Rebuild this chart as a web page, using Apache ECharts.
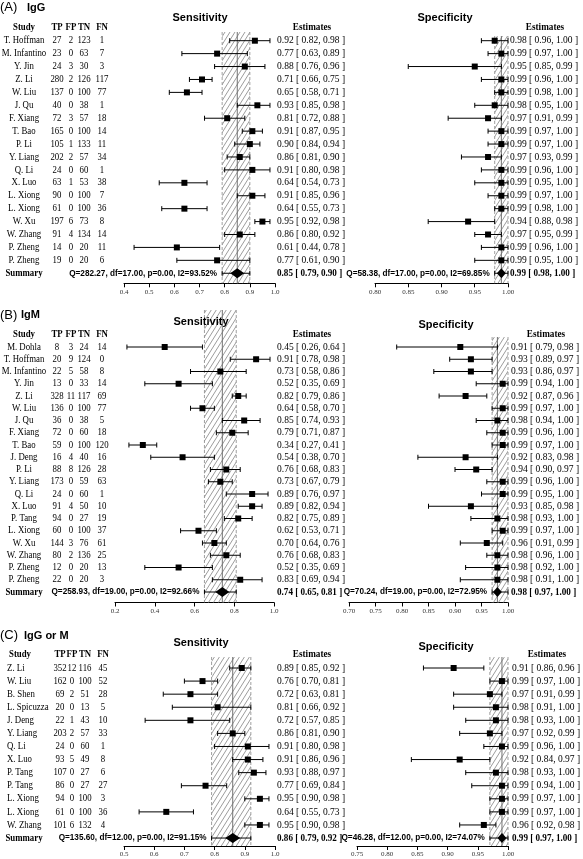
<!DOCTYPE html>
<html><head><meta charset="utf-8">
<script src="https://cdn.jsdelivr.net/npm/echarts@6/dist/echarts.min.js"></script>
<style>html,body{margin:0;padding:0;background:#fff}#c{width:583px;height:859px}</style>
</head><body><div id="c"></div>
<script>
// ===== Panel A: IgG =====
const studiesA = ["T. Hoffman","M. Infantino","Y. Jin","Z. Li","W. Liu","J. Qu","F. Xiang","T. Bao","P. Li","Y. Liang","Q. Li","X. Luo","L. Xiong","L. Xiong","W. Xu","W. Zhang","P. Zheng","P. Zheng"];
const tpA = [27,23,24,280,137,40,72,165,105,202,24,63,90,61,197,91,14,19];
const fpA = [2,0,3,2,0,0,3,0,1,2,0,1,0,0,6,4,0,0];
const tnA = [123,63,30,126,100,38,57,100,133,57,60,53,100,100,73,134,20,20];
const fnA = [1,7,3,117,77,1,18,14,11,34,1,38,7,36,8,14,11,6];
const sensA   = [0.92,0.77,0.88,0.71,0.65,0.93,0.81,0.91,0.90,0.86,0.91,0.64,0.91,0.64,0.95,0.86,0.61,0.77];
const sensLoA = [0.82,0.63,0.76,0.66,0.58,0.85,0.72,0.87,0.84,0.81,0.80,0.54,0.85,0.55,0.92,0.80,0.44,0.61];
const sensHiA = [0.98,0.89,0.96,0.75,0.71,0.98,0.88,0.95,0.94,0.90,0.98,0.73,0.96,0.73,0.98,0.92,0.78,0.90];
const specA   = [0.98,0.99,0.95,0.99,0.99,0.98,0.97,0.99,0.99,0.97,0.99,0.99,0.99,0.99,0.94,0.97,0.99,0.99];
const specLoA = [0.96,0.97,0.85,0.96,0.98,0.95,0.91,0.97,0.97,0.93,0.96,0.95,0.97,0.98,0.88,0.95,0.96,0.95];
const specHiA = [1.00,1.00,0.99,1.00,1.00,1.00,0.99,1.00,1.00,0.99,1.00,1.00,1.00,1.00,0.98,0.99,1.00,1.00];
const sensSummaryA = [0.85,0.79,0.90];
const specSummaryA = [0.99,0.98,1.00];
const sensStatsA = "Q=282.27, df=17.00, p=0.00, I2=93.52%";
const specStatsA = "Q=58.38, df=17.00, p=0.00, I2=69.85%";
const sensTicksA = [0.4,0.5,0.6,0.7,0.8,0.9,1.0];
const sensTickLabelsA = ["0.4","0.5","0.6","0.7","0.8","0.9","1.0"];
const specTicksA = [0.80,0.85,0.90,0.95,1.00];
const specTickLabelsA = ["0.80","0.85","0.90","0.95","1.00"];

// ===== Panel B: IgM =====
const studiesB = ["M. Dohla","T. Hoffman","M. Infantino","Y. Jin","Z. Li","W. Liu","J. Qu","F. Xiang","T. Bao","J. Deng","P. Li","Y. Liang","Q. Li","X. Luo","P. Tang","L. Xiong","W. Xu","W. Zhang","P. Zheng","P. Zheng"];
const tpB = [8,20,22,13,328,136,36,72,59,16,88,173,24,91,94,60,144,80,12,22];
const fpB = [3,9,5,0,11,0,0,0,0,4,8,0,0,4,0,0,3,2,0,0];
const tnB = [24,124,58,33,117,100,38,60,100,40,126,59,60,50,27,100,76,136,20,20];
const fnB = [14,0,8,14,69,77,5,18,120,16,28,63,1,10,19,37,61,25,13,3];
const sensB   = [0.45,0.91,0.73,0.52,0.82,0.64,0.85,0.79,0.34,0.54,0.76,0.73,0.89,0.89,0.82,0.62,0.70,0.76,0.52,0.83];
const sensLoB = [0.26,0.78,0.58,0.35,0.79,0.58,0.74,0.71,0.27,0.38,0.68,0.67,0.76,0.82,0.75,0.53,0.64,0.68,0.35,0.69];
const sensHiB = [0.64,0.98,0.86,0.69,0.86,0.70,0.93,0.87,0.41,0.70,0.83,0.79,0.97,0.94,0.89,0.71,0.76,0.83,0.69,0.94];
const specB   = [0.91,0.93,0.93,0.99,0.92,0.99,0.98,0.99,0.99,0.92,0.94,0.99,0.99,0.93,0.98,0.99,0.96,0.98,0.98,0.98];
const specLoB = [0.79,0.89,0.86,0.94,0.87,0.97,0.94,0.96,0.97,0.83,0.90,0.96,0.95,0.85,0.93,0.97,0.91,0.96,0.92,0.91];
const specHiB = [0.98,0.97,0.97,1.00,0.96,1.00,1.00,1.00,1.00,0.98,0.97,1.00,1.00,0.98,1.00,1.00,0.99,1.00,1.00,1.00];
const sensSummaryB = [0.74,0.65,0.81];
const specSummaryB = [0.98,0.97,1.00];
const sensStatsB = "Q=258.93, df=19.00, p=0.00, I2=92.66%";
const specStatsB = "Q=70.24, df=19.00, p=0.00, I2=72.95%";
const sensTicksB = [0.2,0.4,0.6,0.8,1.0];
const sensTickLabelsB = ["0.2","0.4","0.6","0.8","1.0"];
const specTicksB = [0.70,0.75,0.80,0.85,0.90,0.95,1.00];
const specTickLabelsB = ["0.70","0.75","0.80","0.85","0.90","0.95","1.00"];

// ===== Panel C: IgG or M =====
const studiesC = ["Z. Li","W. Liu","B. Shen","L. Spicuzza","J. Deng","Y. Liang","Q. Li","X. Luo","P. Tang","P. Tang","L. Xiong","L. Xiong","W. Zhang"];
const tpC = [352,162,69,20,22,203,24,93,107,86,94,61,101];
const fpC = [12,0,2,0,1,2,0,5,0,0,0,0,6];
const tnC = [116,100,51,13,43,57,60,49,27,27,100,100,132];
const fnC = [45,52,28,5,10,33,1,8,6,27,3,36,4];
const sensC   = [0.89,0.76,0.72,0.81,0.72,0.86,0.91,0.91,0.93,0.77,0.95,0.64,0.95];
const sensLoC = [0.85,0.70,0.63,0.66,0.57,0.81,0.80,0.86,0.88,0.69,0.90,0.55,0.90];
const sensHiC = [0.92,0.81,0.81,0.92,0.85,0.90,0.98,0.96,0.97,0.84,0.98,0.73,0.98];
const specC   = [0.91,0.99,0.97,0.98,0.98,0.97,0.99,0.92,0.98,0.99,0.99,0.99,0.96];
const specLoC = [0.86,0.97,0.91,0.91,0.93,0.92,0.96,0.84,0.93,0.94,0.97,0.97,0.92];
const specHiC = [0.96,1.00,0.99,1.00,1.00,0.99,1.00,0.97,1.00,1.00,1.00,1.00,0.98];
const sensSummaryC = [0.86,0.79,0.92];
const specSummaryC = [0.99,0.97,1.00];
const sensStatsC = "Q=135.60, df=12.00, p=0.00, I2=91.15%";
const specStatsC = "Q=46.28, df=12.00, p=0.00, I2=74.07%";
const sensTicksC = [0.5,0.6,0.7,0.8,0.9,1.0];
const sensTickLabelsC = ["0.5","0.6","0.7","0.8","0.9","1.0"];
const specTicksC = [0.75,0.80,0.85,0.90,0.95,1.00];
const specTickLabelsC = ["0.75","0.80","0.85","0.90","0.95","1.00"];

// ===== Layout (positions only) =====
const panels = [
  {letter:"(A)", name:"IgG", nameX:27,
   studies:studiesA, tp:tpA, fp:fpA, tn:tnA, fn:fnA,
   sens:{est:sensA, lo:sensLoA, hi:sensHiA, sum:sensSummaryA, stat:sensStatsA, ticks:sensTicksA, labels:sensTickLabelsA},
   spec:{est:specA, lo:specLoA, hi:specHiA, sum:specSummaryA, stat:specStatsA, ticks:specTicksA, labels:specTickLabelsA},
   L:{titleY:7.5, sensTitleY:18, specTitleY:18, firstY:40.7, step:12.92, axisY:283.3, headerRow:-1.05,
      sens:{left:124, right:275, top:32, estX:277, hw:7, titleX:200},
      spec:{left:375, right:508, top:36, estX:510, hw:4.5, titleX:445},
      cols:{name:24, nameAlign:'center', study:24, tp:57, fp:71, tn:84, fn:102}}},
  {letter:"(B)", name:"IgM", nameX:21,
   studies:studiesB, tp:tpB, fp:fpB, tn:tnB, fn:fnB,
   sens:{est:sensB, lo:sensLoB, hi:sensHiB, sum:sensSummaryB, stat:sensStatsB, ticks:sensTicksB, labels:sensTickLabelsB},
   spec:{est:specB, lo:specLoB, hi:specHiB, sum:specSummaryB, stat:specStatsB, ticks:specTicksB, labels:specTickLabelsB},
   L:{titleY:315, sensTitleY:322, specTitleY:325, firstY:347, step:12.25, axisY:602.5, headerRow:-1.0,
      sens:{left:115, right:274, top:310, estX:277, hw:7, titleX:201},
      spec:{left:349, right:508, top:337, estX:511, hw:4.5, titleX:446},
      cols:{name:24, nameAlign:'center', study:24, tp:57, fp:71, tn:84, fn:102}}},
  {letter:"(C)", name:"IgG or M", nameX:24,
   studies:studiesC, tp:tpC, fp:fpC, tn:tnC, fn:fnC,
   sens:{est:sensC, lo:sensLoC, hi:sensHiC, sum:sensSummaryC, stat:sensStatsC, ticks:sensTicksC, labels:sensTickLabelsC},
   spec:{est:specC, lo:specLoC, hi:specHiC, sum:specSummaryC, stat:specStatsC, ticks:specTicksC, labels:specTickLabelsC},
   L:{titleY:635.5, sensTitleY:643, specTitleY:647, firstY:668, step:13.08, axisY:846, headerRow:-1.07,
      sens:{left:124, right:275, top:657, estX:277, hw:7.5, titleX:201},
      spec:{left:357, right:508, top:657, estX:512, hw:4.5, titleX:446},
      cols:{name:7, nameAlign:'left', study:20, tp:60, fp:72, tn:85, fn:103}}}
];

const SERIF = '"Liberation Serif","Times New Roman",serif';
const SANS = '"Liberation Sans",Arial,sans-serif';

// hatch pattern
const hatchCanvas = document.createElement('canvas');
hatchCanvas.width = 5; hatchCanvas.height = 8;
(function(){
  const ctx = hatchCanvas.getContext('2d');
  ctx.strokeStyle = '#8a8a8a'; ctx.lineWidth = 0.85;
  ctx.beginPath();
  ctx.moveTo(0,8); ctx.lineTo(5,0);
  ctx.moveTo(-5,8); ctx.lineTo(0,0);
  ctx.moveTo(5,8); ctx.lineTo(10,0);
  ctx.stroke();
})();
const hatch = {image: hatchCanvas, repeat: 'repeat'};

const f2 = v => v.toFixed(2);
const estText = (e,l,h) => f2(e) + ' [ ' + f2(l) + ', ' + f2(h) + ' ]';

function txt(s, x, y, align, opts) {
  opts = opts || {};
  return {type:'text', x:x, y:y, scaleX: opts.scaleX || 1,
    style:{text:s, fill:'#000', fontFamily: opts.family || SERIF, fontSize: opts.size || 10,
      fontWeight: opts.bold ? 'bold' : 'normal', align:align, verticalAlign:'middle',
      textAlign:align, textVerticalAlign:'middle'}};
}

function tableSeries(p, gi) {
  const N = p.studies.length;
  const data = [];
  for (let i = 0; i < N; i++) data.push([0, i, p.tp[i], p.fp[i], p.tn[i], p.fn[i], 0]);
  data.push([0, p.L.headerRow, 0,0,0,0, 1]);
  data.push([0, N, 0,0,0,0, 2]);
  const c = p.L.cols;
  return {type:'custom', xAxisIndex:gi, yAxisIndex:gi, clip:false, z:3, silent:true,
    encode:{x:0, y:1}, data:data,
    renderItem:function(params, api){
      const row = api.value(1), kind = api.value(6);
      const X = x => api.coord([x, row])[0];
      const y = api.coord([0, row])[1];
      const o = {scaleX:0.88};
      const ob = {scaleX:0.88, bold:true};
      if (kind === 1) {
        return {type:'group', children:[
          txt('Study', X(c.study), y, 'center', ob),
          txt('TP', X(c.tp), y, 'center', ob), txt('FP', X(c.fp), y, 'center', ob),
          txt('TN', X(c.tn), y, 'center', ob), txt('FN', X(c.fn), y, 'center', ob)]};
      }
      if (kind === 2) {
        return {type:'group', children:[txt('Summary', X(24), y, 'center', ob)]};
      }
      const i = params.dataIndex;
      return {type:'group', children:[
        txt(p.studies[i], X(c.name), y, c.nameAlign, o),
        txt(String(api.value(2)), X(c.tp), y, 'center', o),
        txt(String(api.value(3)), X(c.fp), y, 'center', o),
        txt(String(api.value(4)), X(c.tn), y, 'center', o),
        txt(String(api.value(5)), X(c.fn), y, 'center', o)]};
    }};
}

function bandSeries(D, g) {
  return {type:'custom', xAxisIndex:g, yAxisIndex:g, clip:false, z:1, silent:true,
    encode:{x:[0,1,2], y:3}, data:[[D.sum[0], D.sum[1], D.sum[2], 0]],
    renderItem:function(params, api){
      const cs = params.coordSys;
      const xe = api.coord([api.value(0), 0])[0];
      const x1 = api.coord([api.value(1), 0])[0];
      const x2 = api.coord([api.value(2), 0])[0];
      const t = cs.y, b = cs.y + cs.height;
      const dash = {stroke:'#888', lineWidth:0.8, lineDash:[3,2]};
      return {type:'group', children:[
        {type:'rect', shape:{x:x1, y:t, width:x2-x1, height:b-t}, style:{fill:hatch}},
        {type:'line', shape:{x1:x1, y1:t, x2:x1, y2:b}, style:dash},
        {type:'line', shape:{x1:x2, y1:t, x2:x2, y2:b}, style:dash},
        {type:'line', shape:{x1:xe, y1:t, x2:xe, y2:b}, style:{stroke:'#707070', lineWidth:1}}
      ]};
    }};
}

function forestSeries(D, L, S, g) {
  const N = D.est.length;
  const data = D.est.map((e,i) => [e, D.lo[i], D.hi[i], i, 0]);
  data.push([D.sum[0], D.sum[1], D.sum[2], N, 1]);
  return {type:'custom', xAxisIndex:g, yAxisIndex:g, clip:false, z:2, silent:true,
    encode:{x:[0,1,2], y:3}, data:data,
    renderItem:function(params, api){
      const e = api.value(0), l = api.value(1), h = api.value(2), r = api.value(3);
      const isSum = api.value(4) === 1;
      const pe = api.coord([e, r]), pl = api.coord([l, r]), ph = api.coord([h, r]);
      const y = pe[1];
      const st = {stroke:'#000', lineWidth:1};
      const ch = [
        {type:'line', shape:{x1:pl[0], y1:y, x2:ph[0], y2:y}, style:st},
        {type:'line', shape:{x1:pl[0], y1:y-2.5, x2:pl[0], y2:y+2.5}, style:st},
        {type:'line', shape:{x1:ph[0], y1:y-2.5, x2:ph[0], y2:y+2.5}, style:st}
      ];
      if (!isSum) {
        ch.push({type:'rect', shape:{x:pe[0]-3, y:y-3, width:6, height:6}, style:{fill:'#000'}});
        ch.push(txt(estText(e,l,h), S.estX, y, 'left', {scaleX:0.95}));
      } else {
        const hw = S.hw;
        ch.push({type:'polygon', shape:{points:[[pe[0]-hw,y],[pe[0],y-5],[pe[0]+hw,y],[pe[0],y+5]]}, style:{fill:'#000'}});
        ch.push(txt(estText(e,l,h), S.estX, y, 'left', {scaleX:0.91, bold:true}));
        ch.push(txt(D.stat, pl[0]-5, y, 'right', {family:SANS, size:8.2, bold:true}));
      }
      if (params.dataIndex === 0) {
        const hy = api.coord([e, L.headerRow])[1];
        ch.push(txt('Estimates', S.estX + 35, hy, 'center', {scaleX:0.92, bold:true}));
      }
      return {type:'group', children:ch};
    }};
}

const option = {animation:false, backgroundColor:'#fff', grid:[], xAxis:[], yAxis:[], series:[], graphic:[]};

panels.forEach(p => {
  const L = p.L;
  const gi = option.grid.length;
  const tTop = L.firstY - 2 * L.step;
  option.grid.push({left:0, top:tTop, width:583, height:L.axisY - tTop, containLabel:false, outerBoundsMode:'none'});
  option.xAxis.push({type:'value', gridIndex:gi, min:0, max:583, show:false});
  option.yAxis.push({type:'value', gridIndex:gi, inverse:true, min:(tTop - L.firstY)/L.step, max:(L.axisY - L.firstY)/L.step, show:false});
  option.series.push(tableSeries(p, gi));

  ['sens','spec'].forEach(k => {
    const S = L[k], D = p[k];
    const g = option.grid.length;
    option.grid.push({left:S.left, top:S.top, width:S.right - S.left, height:L.axisY - S.top, containLabel:false, outerBoundsMode:'none'});
    option.xAxis.push({type:'value', gridIndex:g, position:'bottom',
      min:D.ticks[0], max:D.ticks[D.ticks.length-1],
      axisLine:{show:true, onZero:false, lineStyle:{color:'#000', width:1}},
      axisTick:{show:true, inside:false, length:4, customValues:D.ticks, lineStyle:{color:'#000', width:1}},
      axisLabel:{show:true, customValues:D.ticks, margin:5, fontFamily:SERIF, fontSize:7, color:'#333',
        showMinLabel:true, showMaxLabel:true, hideOverlap:false,
        formatter:function(v){
          for (let i = 0; i < D.ticks.length; i++) if (Math.abs(D.ticks[i] - v) < 1e-9) return D.labels[i];
          return '';
        }},
      splitLine:{show:false}});
    option.yAxis.push({type:'value', gridIndex:g, inverse:true, min:(S.top - L.firstY)/L.step, max:(L.axisY - L.firstY)/L.step, show:false});
    option.series.push(bandSeries(D, g));
    option.series.push(forestSeries(D, L, S, g));
    option.graphic.push({type:'text', x:S.titleX, y:(k === 'sens' ? L.sensTitleY : L.specTitleY), z:10,
      style:{text:(k === 'sens' ? 'Sensitivity' : 'Specificity'), fill:'#000', font:'bold 11px ' + SANS,
        textAlign:'center', textVerticalAlign:'middle', align:'center', verticalAlign:'middle'}});
  });

  option.graphic.push({type:'text', x:0, y:L.titleY, z:10,
    style:{text:p.letter, fill:'#000', font:'13px ' + SANS, textAlign:'left', textVerticalAlign:'middle', align:'left', verticalAlign:'middle'}});
  option.graphic.push({type:'text', x:p.nameX, y:L.titleY, z:10,
    style:{text:p.name, fill:'#000', font:'bold 11px ' + SANS, textAlign:'left', textVerticalAlign:'middle', align:'left', verticalAlign:'middle'}});
});

const chart = echarts.init(document.getElementById('c'), null, {renderer:'canvas'});
chart.setOption(option);
</script>
</body></html>
